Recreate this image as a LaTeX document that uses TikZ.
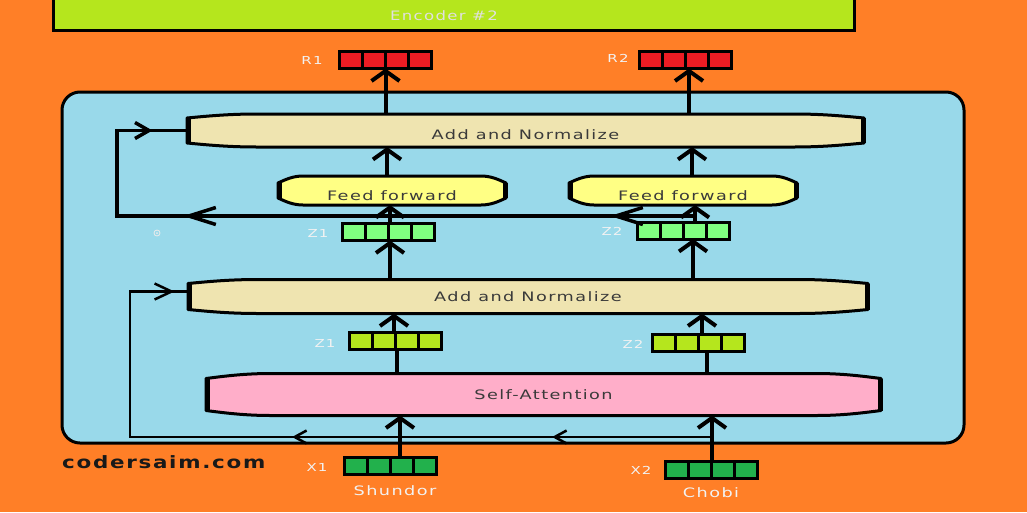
\documentclass[tikz,border=0pt]{standalone}
\usepackage{graphicx}
\usepackage{fontspec}
\setmainfont{DejaVu Sans}
\newfontfamily\tf[LetterSpace=8]{DejaVu Sans}
\newcommand\wide[1]{\scalebox{1.36}[1]{#1}}
\usetikzlibrary{arrows.meta,calc,decorations.markings}
\definecolor{orng}{HTML}{FF7F27}
\definecolor{blu}{HTML}{99D9EA}
\definecolor{encg}{HTML}{B5E61D}
\definecolor{beige}{HTML}{EFE4B0}
\definecolor{yel}{HTML}{FFFF84}
\definecolor{pinkk}{HTML}{FFAEC9}
\definecolor{lgrn}{HTML}{80FF80}
\definecolor{ygrn}{HTML}{B5E61D}
\definecolor{dgrn}{HTML}{22B14C}
\definecolor{redd}{HTML}{ED1C24}
\definecolor{txt}{HTML}{3A3A3A}
\definecolor{lab}{HTML}{F2F2F2}
\pgfdeclarelayer{bg}
\pgfdeclarelayer{shp}
\pgfsetlayers{bg,shp,main}
% barrel outline: node, fill, inset, curve length
\newcommand\barrel[4]{%
\begin{pgfonlayer}{shp}
\path let \p1=(#1.north west), \p2=(#1.south east) in
 [draw=black, line width=3pt, fill=#2, line join=round]
 (\x1+#4,\y1) .. controls (\x1+0.6*#4,\y1) and (\x1+0.3*#4,\y1-0.5*#3) .. (\x1,\y1-#3)
 -- (\x1,\y2+#3) .. controls (\x1+0.3*#4,\y2+0.5*#3) and (\x1+0.6*#4,\y2) .. (\x1+#4,\y2)
 -- (\x2-#4,\y2) .. controls (\x2-0.6*#4,\y2) and (\x2-0.3*#4,\y2+0.5*#3) .. (\x2,\y2+#3)
 -- (\x2,\y1-#3) .. controls (\x2-0.3*#4,\y1-0.5*#3) and (\x2-0.6*#4,\y1) .. (\x2-#4,\y1)
 -- cycle;
\path let \p1=(#1.north west), \p2=(#1.south east) in
 [draw=black, line width=5pt]
 (\x1+1pt,\y1-#3) -- (\x1+1pt,\y2+#3) (\x2-1pt,\y1-#3) -- (\x2-1pt,\y2+#3);
\end{pgfonlayer}}
\begin{document}
\begin{tikzpicture}[x=1pt,y=-1pt,
  bar/.style={draw=none, fill=none, inner sep=0pt, outer sep=0pt,
    font=\tf\fontsize{13}{15}\selectfont, text=txt, text height=9.5pt, text depth=0pt},
  vec/.style={draw=black, line width=3pt, fill=#1, minimum width=92pt,
    minimum height=17pt, inner sep=0pt, outer sep=0pt,
    path picture={\foreach \i in {1,2,3}{\draw[line width=3pt]
      ($(path picture bounding box.south west)!\i/4!(path picture bounding box.south east)$) --
      ($(path picture bounding box.north west)!\i/4!(path picture bounding box.north east)$);}}},
  arr/.style={line width=4pt, -{Straight Barb[length=10pt,width=28pt]}},
  ln/.style={line width=4pt},
  lbl/.style={font=\tf\fontsize{11}{13}\selectfont, text=lab},
  wlbl/.style={font=\tf\fontsize{13}{15}\selectfont, text=lab},
]
\useasboundingbox (0,0) rectangle (1027,512);
\begin{pgfonlayer}{bg}
\fill[orng] (0,0) rectangle (1027,512);
\draw[line width=3pt, fill=blu, rounded corners=18pt] (62,92) rectangle (964,443);
\end{pgfonlayer}

% encoder #2
\node[draw, line width=3pt, fill=encg, minimum width=801pt, minimum height=50pt,
  anchor=south west, inner sep=0pt] (enc) at (52,32) {};
\node[font=\tf\fontsize{13}{15}\selectfont, text=white!88!black] (enct) at (444,16) {\scalebox{1.27}[1]{Encoder \#2}};

% barrel nodes
\node[bar, minimum width=677pt, minimum height=33pt] (AN2) at (525.5,130.5) {\raisebox{-4pt}{\wide{Add and Normalize}}};
\node[bar, minimum width=228pt, minimum height=29pt] (FF1) at (392,190.5) {\raisebox{-5.5pt}{\wide{Feed forward}}};
\node[bar, minimum width=228pt, minimum height=29pt] (FF2) at (683,190.5) {\raisebox{-5.5pt}{\wide{Feed forward}}};
\node[bar, minimum width=680pt, minimum height=34pt] (AN1) at (528,296.5) {\wide{Add and Normalize}};
\node[bar, minimum width=675pt, minimum height=42pt] (SA) at (543.5,394.5) {\wide{Self-Attention}};
\barrel{AN2}{beige}{4pt}{70pt}
\barrel{FF1}{yel}{7pt}{25pt}
\barrel{FF2}{yel}{7pt}{25pt}
\barrel{AN1}{beige}{4pt}{70pt}
\barrel{SA}{pinkk}{5pt}{65pt}

% vectors
\node[vec=redd] (R1) at (385.5,60) {};
\node[vec=redd] (R2) at (685.5,60) {};
\node[vec=lgrn] (Z1g) at (388.5,232) {};
\node[vec=lgrn] (Z2g) at (683.5,230.5) {};
\node[vec=ygrn] (Z1y) at (395,341) {};
\node[vec=ygrn] (Z2y) at (698,342.5) {};
\node[vec=dgrn] (X1) at (390,465.5) {};
\node[vec=dgrn] (X2) at (711,469.5) {};

% labels
\node[lbl] (lR1) at (312,60) {\wide{R1}};
\node[lbl] (lR2) at (618,58) {\wide{R2}};
\node[lbl] (lZ1g) at (318,233) {\wide{Z1}};
\node[lbl] (lZ2g) at (612,231) {\wide{Z2}};
\node[lbl] (lZ1y) at (325,343) {\wide{Z1}};
\node[lbl] (lZ2y) at (633,344) {\wide{Z2}};
\node[lbl] (lX1) at (317,467) {\wide{X1}};
\node[lbl] (lX2) at (641,470) {\wide{X2}};
\node[wlbl] (w1) at (395,491) {\wide{Shundor}};
\node[wlbl] (w2) at (711,493) {\wide{Chobi}};
\node[font=\tf\bfseries\fontsize{17}{19}\selectfont, text=black!90, anchor=west, inner sep=0pt] (web) at (62,462) {\scalebox{1.26}[1]{codersaim.com}};
\draw[white!85!gray, line width=0.8pt] (157,233) circle[radius=3pt];
\fill[white!85!gray] (157,233) circle[radius=1pt];

% main arrows
\draw[arr] (R1.south |- AN2.north) -- (R1.south);
\draw[arr] ([xshift=3.5pt]R2.south |- AN2.north) -- ([xshift=3.5pt]R2.south);
\draw[arr] ([xshift=-5pt]FF1.north) -- ([xshift=-5pt]FF1.north |- AN2.south);
\draw[arr] ([xshift=9pt]FF2.north) -- ([xshift=9pt]FF2.north |- AN2.south);
\draw[arr] ([xshift=1.5pt]Z1g.north) -- ([xshift=1.5pt]Z1g.north |- FF1.south);
\draw[arr] ([xshift=11.5pt]Z2g.north) -- ([xshift=11.5pt]Z2g.north |- FF2.south);
\draw[arr] ([xshift=1.5pt]Z1g.south |- AN1.north) -- ([xshift=1.5pt]Z1g.south);
\draw[arr] ([xshift=9.5pt]Z2g.south |- AN1.north) -- ([xshift=9.5pt]Z2g.south);
\draw[arr] ([xshift=-1pt]Z1y.north) -- ([xshift=-1pt]Z1y.north |- AN1.south);
\draw[arr] ([xshift=4pt]Z2y.north) -- ([xshift=4pt]Z2y.north |- AN1.south);
\draw[ln] ([xshift=2pt]Z1y.south |- SA.north) -- ([xshift=2pt]Z1y.south);
\draw[ln] ([xshift=9pt]Z2y.south |- SA.north) -- ([xshift=9pt]Z2y.south);
\draw[arr] ([xshift=10pt]X1.north) -- ([xshift=10pt]X1.north |- SA.south);
\draw[arr] ([xshift=1pt]X2.north) -- ([xshift=1pt]X2.north |- SA.south);

% residual connections
\coordinate (rt) at (693,216);
\coordinate (tl) at (117,216);
\draw[line width=3.5pt, decoration={markings,
   mark=at position 83pt with {\arrow{Straight Barb[length=27pt,width=17pt]}},
   mark=at position 510pt with {\arrow{Straight Barb[length=27pt,width=17pt]}},
   mark=at position 697pt with {\arrow{Straight Barb[length=14pt,width=16pt]}}},
   postaction={decorate}] (rt) -- (tl) |- (AN2.west);
\coordinate (rb) at (712,437);
\coordinate (bl) at (130,437);
\draw[line width=2.5pt, decoration={markings,
   mark=at position 160pt with {\arrow{Straight Barb[length=12pt,width=13pt]}},
   mark=at position 420pt with {\arrow{Straight Barb[length=12pt,width=13pt]}},
   mark=at position 772pt with {\arrow{Straight Barb[length=17pt,width=16pt]}}},
   postaction={decorate}] (rb) -- (bl) |- ([yshift=5pt]AN1.west);
\end{tikzpicture}
\end{document}
